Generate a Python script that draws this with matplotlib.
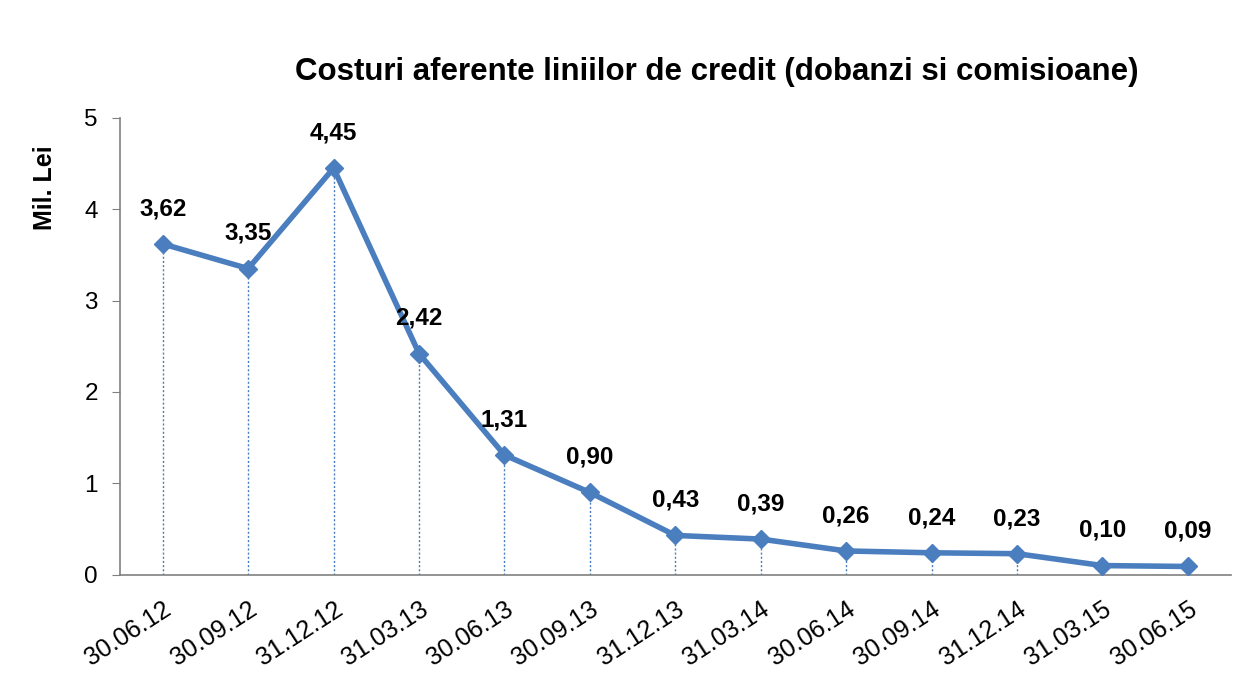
"""
Costuri aferente liniilor de credit - line chart with drop lines.
"""

import matplotlib
matplotlib.use("Agg")
import matplotlib.pyplot as plt

dates = ["30.06.12", "30.09.12", "31.12.12", "31.03.13", "30.06.13", "30.09.13",
         "31.12.13", "31.03.14", "30.06.14", "30.09.14", "31.12.14", "31.03.15",
         "30.06.15"]
costs = [3.62, 3.35, 4.45, 2.42, 1.31, 0.90, 0.43, 0.39, 0.26, 0.24, 0.23, 0.10, 0.09]

BLUE = "#4a7ebf"

plt.rcParams["font.family"] = ["Liberation Sans", "DejaVu Sans"]

fig = plt.figure(figsize=(12.57, 6.85), dpi=100)
ax = fig.add_axes([0.0955, 0.161, 0.8835, 0.667])

x = list(range(len(dates)))

# drop lines
ax.vlines(x, 0, costs, colors=BLUE, linestyles=(0, (1.5, 1.5)), linewidth=1)

ax.plot(x, costs, color=BLUE, linewidth=4, marker="D", markersize=9,
        markeredgecolor=BLUE, markerfacecolor=BLUE, zorder=3)

for xi, v in zip(x, costs):
    ax.annotate(f"{v:.2f}".replace(".", ","), (xi, v), xytext=(0, 17),
                textcoords="offset points", ha="center", va="bottom",
                fontsize=17.5, fontweight="bold")

ax.set_xlim(-0.5, len(dates) - 0.5)
ax.set_ylim(0, 5)
ax.set_yticks([0, 1, 2, 3, 4, 5])
ax.set_xticks(x)
ax.set_xticklabels(dates, rotation=33, ha="right", rotation_mode="anchor",
                   fontsize=18)
ax.tick_params(axis="x", length=0, pad=16)
ax.tick_params(axis="y", labelsize=17.5, length=6, color="#808080", pad=10)

for side in ["top", "right"]:
    ax.spines[side].set_visible(False)
ax.spines["left"].set_color("#808080")
ax.spines["bottom"].set_color("#808080")
ax.spines["left"].set_linewidth(1.2)
ax.spines["bottom"].set_linewidth(1.2)

fig.text(0.036, 0.726, "Mil. Lei", rotation=90, ha="center", va="center",
         fontsize=18, fontweight="bold")
fig.text(0.570, 0.895, "Costuri aferente liniilor de credit (dobanzi si comisioane)",
         ha="center", va="center", fontsize=22.5, fontweight="bold")

fig.savefig("out.png", dpi=100)
